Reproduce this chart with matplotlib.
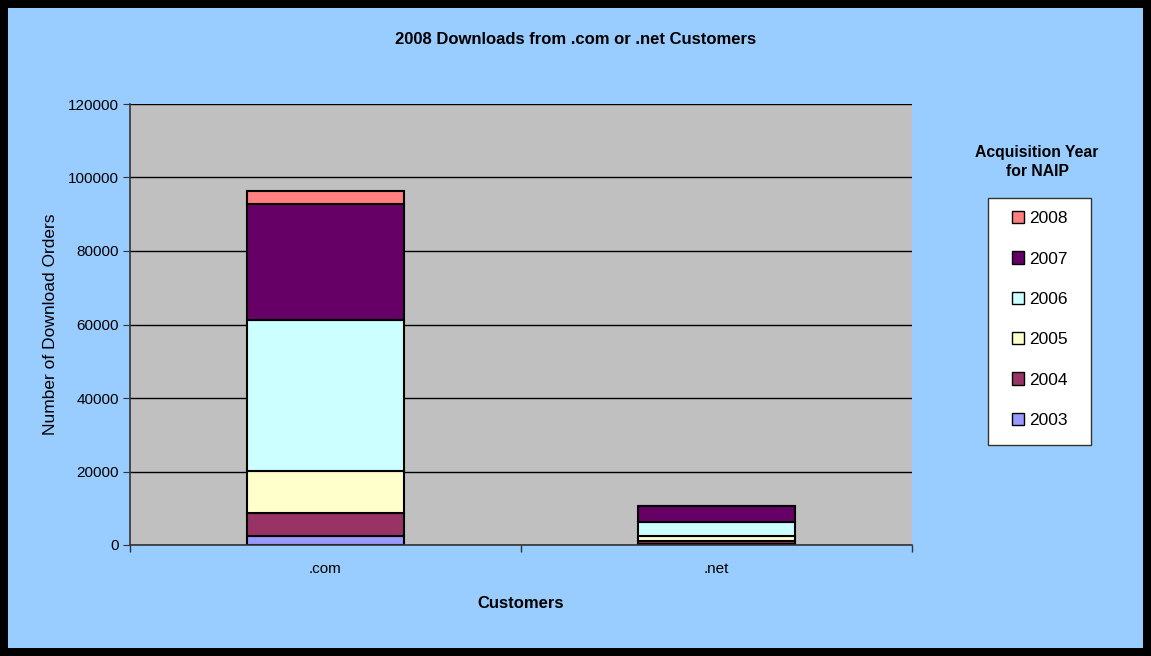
import numpy as np
import matplotlib.pyplot as plt
from matplotlib.patches import Rectangle, Patch

# Data
customers = ['.com', '.net']
years = ['2003', '2004', '2005', '2006', '2007', '2008']
v2003 = [2500, 300]
v2004 = [6100, 800]
v2005 = [11500, 1400]
v2006 = [41100, 3850]
v2007 = [31600, 4250]
v2008 = [3600, 100]
series = [v2003, v2004, v2005, v2006, v2007, v2008]
colors = ['#9999FF', '#993366', '#FFFFCC', '#CCFFFF', '#660066', '#FF8080']

plt.rcParams['font.family'] = ['Liberation Sans', 'DejaVu Sans']

fig = plt.figure(figsize=(11.51, 6.56), dpi=100)
fig.patch.set_facecolor('#99CCFF')
W, H = 1151, 656
ax = fig.add_axes([130 / W, 1 - 545 / H, (912 - 130) / W, (545 - 104) / H])
ax.set_facecolor('#C0C0C0')

# Stacked bars
x = np.arange(len(customers))
bottom = np.zeros(len(customers))
for vals, c, yr in zip(series, colors, years):
    ax.bar(x, vals, width=0.4, bottom=bottom, color=c, edgecolor='black',
           linewidth=1.5, label=yr, zorder=3)
    bottom += np.array(vals)

ax.set_xlim(-0.5, 1.5)
ax.set_ylim(0, 120000)
ax.set_yticks(np.arange(0, 120001, 20000))
ax.set_xticks([-0.5, 0.5, 1.5], minor=True)
ax.set_xticks(x)
ax.set_xticklabels(customers)
ax.tick_params(axis='x', which='major', length=0, pad=12, labelsize=11)
ax.tick_params(axis='x', which='minor', length=5, color='#333333', width=1)
ax.tick_params(axis='y', length=5, color='#333333', labelsize=11, pad=3)
ax.yaxis.grid(True, color='black', linewidth=1, zorder=0)
for s in ['top', 'right']:
    ax.spines[s].set_visible(False)
for s in ['left', 'bottom']:
    ax.spines[s].set_color('#333333')
    ax.spines[s].set_linewidth(1.2)
    ax.spines[s].set_zorder(4)

ax.set_ylabel('Number of Download Orders', fontsize=12.5, labelpad=7)
fig.text(521 / W, 1 - 604 / H, 'Customers', ha='center', va='center',
         fontsize=12, fontweight='bold')
fig.text(0.5, 1 - 40 / H, '2008 Downloads from .com or .net Customers',
         ha='center', va='center', fontsize=12, fontweight='bold')

# Legend: white frame drawn at its place, entries centred inside
fig.patches.append(Rectangle((988 / W, 1 - 445 / H), 103 / W, 247 / H,
                             transform=fig.transFigure, facecolor='white',
                             edgecolor='#333333', linewidth=1, zorder=1))
handles = [Patch(facecolor=c, edgecolor='black', label=yr)
           for c, yr in zip(colors, years)][::-1]
leg = fig.legend(handles=handles, loc='center',
                 bbox_to_anchor=(1040 / W, 1 - 319.5 / H),
                 fontsize=12.5, frameon=False,
                 labelspacing=1.45, handlelength=0.7, handleheight=0.7,
                 handletextpad=0.3, borderpad=0, borderaxespad=0)
leg.set_zorder(2)
fig.text(1037 / W, 1 - 162 / H, 'Acquisition Year\nfor NAIP', ha='center',
         va='center', fontsize=11.3, fontweight='bold', linespacing=1.35)

# Outer black frame
fig.patches.append(Rectangle((0, 0), 1, 1, transform=fig.transFigure,
                             fill=False, edgecolor='black', linewidth=11.5,
                             zorder=5))

fig.savefig('out.png', dpi=100, facecolor=fig.get_facecolor())
